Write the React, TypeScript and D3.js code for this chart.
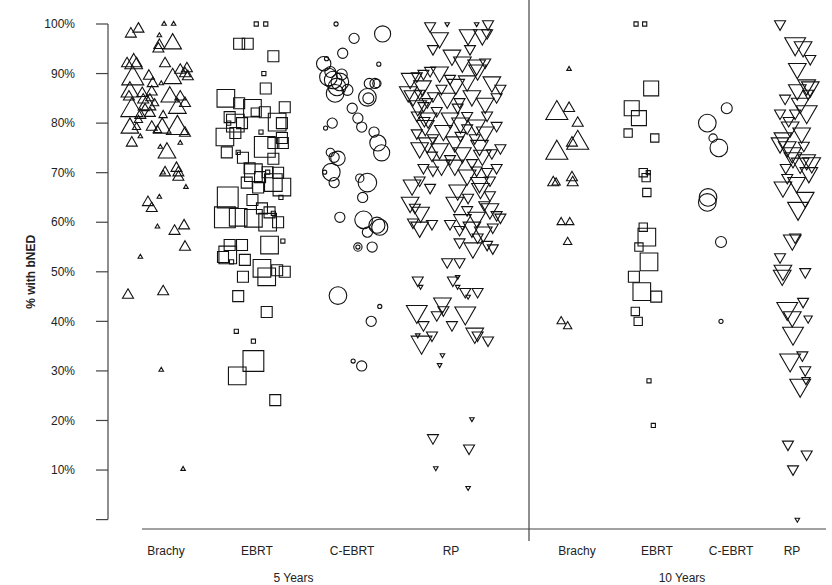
import { useMemo } from 'react';
import * as d3 from 'd3';

// each point: [jitter (in category steps), % with bNED, study size]
type Pt = [number, number, number];

const categories = ['Brachy', 'EBRT', 'C-EBRT', 'RP'];
const periods = ['5 Years', '10 Years'];
const yTicks = [0, 10, 20, 30, 40, 50, 60, 70, 80, 90, 100];

const brachy5: Pt[] = [
  [-0.02, 100, 12], [0.08, 100, 12], [-0.37, 98, 70], [-0.29, 99, 70], [-0.07, 97.7, 12],
  [-0.07, 95.7, 70], [-0.08, 95, 70], [0.07, 96, 180], [-0.01, 92, 70], [-0.34, 92, 180],
  [-0.31, 92, 70], [-0.41, 92, 70], [-0.35, 89, 280], [-0.18, 89.5, 70], [-0.14, 88, 70],
  [-0.05, 88, 12], [0.07, 89, 180], [0.15, 90.7, 70], [0.2, 90, 70], [0.23, 89.4, 70],
  [0.22, 91, 70], [-0.38, 86.3, 180], [-0.39, 85.3, 70], [-0.36, 82.6, 280], [-0.24, 84.7, 70],
  [-0.2, 83.7, 180], [-0.15, 86.3, 70], [-0.17, 82, 70], [-0.27, 81.6, 70], [-0.29, 80.6, 40],
  [-0.03, 81.6, 40], [0.04, 85.3, 180], [0.12, 83, 180], [0.15, 85.3, 70], [0.2, 84, 70],
  [-0.38, 79, 180], [-0.31, 79.2, 40], [-0.15, 79.2, 70], [-0.09, 78.6, 40], [-0.04, 79, 180],
  [0.12, 79, 280], [0.2, 78, 70], [-0.27, 77.3, 12], [-0.36, 76, 70], [-0.06, 75.2, 12],
  [0.15, 76, 12], [0.01, 74, 180], [0.11, 70.9, 70], [-0.01, 70, 70], [-0.03, 70, 12],
  [0.13, 70, 70], [0.13, 69.1, 70], [0.21, 67.1, 12], [-0.07, 65.1, 12], [-0.19, 64, 70],
  [-0.15, 62.8, 70], [-0.09, 59.1, 12], [0.09, 58.2, 70], [0.19, 59.3, 70], [0.2, 55, 70],
  [-0.27, 53, 12], [-0.4, 45.3, 70], [-0.03, 46, 70], [-0.05, 30.2, 12], [0.18, 10.2, 12],
  [-0.22, 83, 40], [-0.17, 85, 40], [-0.25, 86, 70], [-0.12, 84, 40],
];

const ebrt5: Pt[] = [
  [-0.05, 100, 10], [0.05, 100, 10], [-0.23, 96, 70], [-0.14, 96, 70], [0.13, 93.5, 70],
  [0.03, 90, 10], [0.05, 87, 70], [-0.37, 85, 180], [-0.23, 84, 70], [-0.09, 83, 180],
  [0.25, 83.2, 70], [-0.06, 82.2, 40], [0.04, 82.2, 70], [0.17, 80.2, 180], [-0.33, 81.2, 70],
  [-0.27, 80, 180], [-0.34, 80, 10], [-0.2, 80, 70], [0.22, 80, 70], [-0.38, 77.2, 180],
  [-0.27, 78, 70], [0, 78.2, 10], [0.22, 77, 70], [0.23, 76, 70], [0.04, 75.2, 250],
  [-0.36, 74.1, 70], [-0.24, 74.1, 10], [-0.19, 73, 70], [0.13, 72.8, 70], [-0.12, 70.9, 70],
  [-0.08, 70, 180], [-0.01, 69.1, 70], [0.07, 70.1, 70], [0.07, 70.1, 10], [0.18, 70, 70],
  [0.13, 68, 180], [-0.15, 68, 70], [-0.03, 67, 70], [0.22, 67.1, 180], [0.21, 65, 10],
  [-0.35, 65, 250], [-0.38, 61, 250], [-0.24, 61, 180], [-0.09, 64.5, 70], [0.01, 62.8, 70],
  [-0.08, 60.8, 180], [0.09, 62, 70], [0.07, 60, 180], [0.18, 60, 70], [0.13, 61.8, 10],
  [-0.33, 55.4, 70], [-0.2, 55.4, 70], [-0.35, 53.4, 180], [-0.31, 52, 10], [-0.17, 52.4, 70],
  [0.09, 55.4, 180], [0.23, 56.2, 10], [-0.4, 53, 70], [0.01, 50.7, 180], [0.17, 50.3, 70],
  [0.06, 49, 180], [-0.19, 49, 70], [0.25, 50, 70], [-0.24, 45.1, 70], [0.06, 41.9, 70],
  [-0.26, 38, 10], [-0.08, 36, 10], [-0.08, 32, 250], [-0.25, 29, 180], [0.15, 24.1, 70],
  [0.13, 76, 70],
];

const cebrt5: Pt[] = [
  [-0.21, 100, 10], [-0.02, 97.1, 60], [0.28, 98, 150], [-0.14, 94.1, 60], [0.24, 91.9, 10],
  [-0.34, 92, 120], [-0.31, 93, 10], [-0.29, 89.3, 180], [-0.24, 88.7, 180], [-0.17, 88.3, 180],
  [-0.2, 87.3, 180], [-0.27, 90.3, 70], [-0.22, 86, 180], [-0.09, 86.7, 70], [-0.15, 89.8, 70],
  [0.14, 88, 60], [0.2, 88, 60], [0.22, 88, 40], [0.12, 85.2, 180], [0.13, 85, 70],
  [-0.04, 83, 60], [0.02, 81, 60], [0.06, 79.2, 60], [-0.25, 80, 60], [-0.32, 79, 10],
  [0.19, 78.2, 60], [0.23, 76, 150], [0.27, 74, 150], [-0.27, 74.1, 40], [-0.23, 73.1, 60],
  [-0.19, 72.9, 120], [-0.26, 70.1, 180], [-0.33, 70.1, 10], [-0.23, 68, 60], [0.04, 68.9, 40],
  [0.12, 68, 200], [0.07, 65, 60], [-0.17, 61, 60], [0.08, 60.5, 180], [0.22, 59.4, 150],
  [0.12, 58, 60], [0.25, 59, 150], [0.02, 55, 40], [0.02, 55, 10], [0.17, 55, 60],
  [-0.19, 45.2, 180], [0.25, 43, 10], [-0.03, 32, 10], [0.06, 31, 60], [0.16, 40, 60],
];

const rp5: Pt[] = [
  [-0.22, 99.6, 70], [-0.04, 100, 12], [0.27, 100, 12], [0.39, 100, 70], [-0.12, 97.2, 180],
  [0.18, 97.8, 180], [0.33, 97.8, 180], [0.38, 98.2, 70], [-0.19, 95, 70], [0.01, 93.7, 180],
  [0.2, 95, 70], [0.12, 92.3, 180], [0.27, 91.7, 180], [0.36, 92.3, 70],
  [-0.43, 89, 180], [-0.36, 89.5, 70], [-0.29, 90, 70], [-0.22, 90.6, 70], [-0.12, 90.3, 180],
  [-0.01, 89, 70], [0.17, 88.5, 180], [0.28, 90.7, 180], [0.43, 88.3, 180], [0.52, 87, 70],
  [-0.45, 86.3, 180], [-0.4, 85.5, 180], [-0.33, 86, 70], [-0.25, 84.3, 70], [-0.19, 85.5, 70],
  [-0.04, 85, 180], [0.09, 84.3, 70], [0.22, 85.5, 180], [0.36, 84, 180], [0.48, 85.3, 70],
  [-0.36, 81.6, 70], [-0.29, 83.5, 70], [-0.24, 81, 180], [-0.15, 82.5, 70], [-0.01, 81, 180],
  [0.07, 83.2, 70], [0.17, 81.5, 70], [0.27, 79.6, 180], [0.38, 81.6, 70],
  [-0.36, 78, 70], [-0.27, 79.5, 180], [-0.19, 77, 70], [-0.08, 78.5, 180], [0.04, 76.2, 180],
  [0.17, 79, 70], [0.25, 77, 70], [0.36, 78.2, 180], [0.48, 79.5, 70],
  [-0.33, 75, 180], [-0.2, 73.5, 70], [-0.12, 74.8, 180], [-0.01, 72.8, 70], [0.12, 74, 180],
  [0.22, 72, 70], [0.33, 73.5, 180], [0.43, 74, 70], [0.52, 75, 70],
  [-0.29, 71, 70], [-0.19, 70.5, 70], [0.04, 71.5, 180], [0.17, 69.5, 180], [0.27, 70.5, 70],
  [0.38, 70.2, 70], [0.48, 71, 70],
  [-0.41, 67.5, 180], [-0.33, 68.5, 70], [-0.22, 67, 70], [0.07, 66.5, 180], [0.18, 65, 70],
  [0.31, 66.8, 180], [0.41, 68.5, 70], [0.41, 65.5, 70],
  [-0.43, 64, 180], [-0.38, 63, 70], [0.04, 64, 180], [0.17, 62.5, 70], [0.27, 61, 180],
  [0.41, 62.7, 180], [0.48, 61.5, 70],
  [-0.4, 60, 70], [-0.33, 59, 180], [-0.2, 59.7, 70], [-0.01, 59.7, 70], [0.09, 58.5, 70],
  [0.22, 59, 180], [0.34, 58, 180], [0.44, 59, 70], [0.52, 61, 70],
  [0.09, 56, 70], [0.23, 54.8, 180], [0.28, 57, 70], [0.38, 55.5, 70], [0.44, 54.8, 70],
  [-0.04, 52, 70], [0.09, 52, 70],
  [-0.35, 48.3, 70], [-0.32, 47, 12], [0.02, 48.3, 70], [0.07, 49, 12], [0.07, 47, 12],
  [0.15, 46, 70], [0.18, 45, 12], [0.28, 46, 70], [-0.36, 42, 250], [-0.09, 43.7, 180],
  [-0.15, 41.3, 70], [-0.08, 42.3, 70], [0.01, 39.3, 70], [0.15, 41.7, 250], [-0.29, 39.3, 70],
  [-0.2, 37.2, 70], [-0.35, 37.2, 12], [-0.31, 35.8, 250], [0.25, 37.6, 180], [0.28, 37.2, 70],
  [0.39, 36.2, 70], [-0.09, 33.2, 12], [-0.12, 31.2, 12], [0.22, 20.3, 12], [-0.19, 16.5, 70],
  [0.19, 14.4, 70], [-0.16, 10.4, 12], [0.18, 6.4, 12],
  [-0.3, 87.5, 180], [-0.1, 87, 70], [0.05, 87.8, 180], [-0.35, 83.5, 180], [-0.28, 80.5, 70],
  [0.1, 80, 180], [-0.25, 76, 180], [0.1, 77.5, 70], [0.3, 75.5, 180], [-0.1, 71.5, 180],
  [0.3, 68, 180], [0.12, 60.5, 180], [0.35, 63.5, 70], [-0.32, 62, 180],
];

const brachy10: Pt[] = [
  [-0.11, 90.9, 12], [-0.28, 82, 280], [-0.11, 83, 70], [0.01, 80, 70], [-0.07, 76, 70],
  [0.01, 76, 280], [-0.28, 74, 280], [-0.33, 68, 70], [-0.29, 68, 40], [-0.07, 69, 70],
  [-0.06, 68, 70], [-0.22, 60, 40], [-0.1, 60, 40], [-0.13, 56, 40], [-0.22, 40, 40],
  [-0.13, 39, 40],
];

const ebrt10: Pt[] = [
  [-0.18, 100, 10], [-0.06, 100, 10], [0.03, 87, 130], [-0.24, 83, 130], [-0.14, 81, 130],
  [-0.29, 78, 40], [0.08, 77, 40], [-0.08, 70, 40], [-0.01, 70, 10], [-0.04, 69, 40],
  [-0.03, 66, 40], [-0.08, 59, 40], [-0.03, 57, 180], [-0.14, 55, 40], [0, 52, 180],
  [-0.21, 49, 70], [-0.1, 46, 180], [0.1, 45, 70], [-0.19, 42, 40], [-0.15, 40, 40],
  [0, 28, 10], [0.06, 19, 10],
];

const cebrt10: Pt[] = [
  [0.08, 83, 70], [-0.19, 80, 180], [-0.11, 77, 40], [-0.03, 75, 180], [-0.18, 65, 180],
  [-0.19, 64, 180], [0, 56, 70], [0, 40, 10],
];

const rp10: Pt[] = [
  [-0.18, 100, 70], [0.03, 96, 250], [0.14, 95.4, 180], [0.24, 93, 70], [0.06, 91, 180],
  [0.06, 86.7, 180], [-0.11, 85, 70], [0.19, 87.7, 180], [0.24, 87.3, 180], [0.21, 86, 70],
  [0.19, 82.3, 250], [-0.18, 82, 70], [0.03, 82, 70], [-0.04, 79.2, 180], [-0.14, 77, 180],
  [-0.18, 76, 180], [-0.08, 75.2, 180], [-0.01, 74, 180], [0.19, 72.6, 180], [0.1, 71.9, 180],
  [0.26, 72, 180], [-0.08, 69, 70], [-0.14, 67.1, 180], [0.17, 65, 180], [0.07, 62.8, 250],
  [0.03, 57, 70], [-0.01, 56.4, 180], [-0.18, 53, 70], [-0.14, 50.3, 180], [-0.15, 49.3, 180],
  [0.17, 50, 70], [0.14, 44, 70], [-0.08, 42.6, 250], [-0.01, 40.9, 180], [0.21, 40.6, 40],
  [0, 37.6, 250], [-0.04, 32.2, 250], [0.13, 33.2, 70], [0.17, 30.2, 70], [0.1, 27.1, 250],
  [0.18, 28.2, 40], [-0.07, 15.2, 70], [0.19, 13.2, 70], [0, 10.2, 70], [0.06, 0, 12],
  [0.1, 84, 180], [-0.06, 80.5, 70], [0.12, 78, 180], [0, 73, 180], [0.22, 70, 180],
  [-0.1, 71, 70], [0.05, 68, 180], [0.15, 75.5, 70],
];

const groups: { period: number; cat: number; pts: Pt[] }[] = [
  { period: 0, cat: 0, pts: brachy5 },
  { period: 0, cat: 1, pts: ebrt5 },
  { period: 0, cat: 2, pts: cebrt5 },
  { period: 0, cat: 3, pts: rp5 },
  { period: 1, cat: 0, pts: brachy10 },
  { period: 1, cat: 1, pts: ebrt10 },
  { period: 1, cat: 2, pts: cebrt10 },
  { period: 1, cat: 3, pts: rp10 },
];

function shapePath(cat: number, w: number): string {
  const p = d3.path();
  const h = w * 0.866;
  if (cat === 0) {
    p.moveTo(0, (-2 * h) / 3);
    p.lineTo(w / 2, h / 3);
    p.lineTo(-w / 2, h / 3);
    p.closePath();
  } else if (cat === 3) {
    p.moveTo(0, (2 * h) / 3);
    p.lineTo(w / 2, -h / 3);
    p.lineTo(-w / 2, -h / 3);
    p.closePath();
  } else if (cat === 1) {
    p.rect(-w / 2, -w / 2, w, w);
  } else {
    p.moveTo(w / 2, 0);
    p.arc(0, 0, w / 2, 0, Math.PI * 2);
    p.closePath();
  }
  return p.toString();
}

export default function App() {
  const width = 832;
  const height = 585;

  const y = d3.scaleLinear().domain([0, 100]).range([519.6, 24]);
  const xPanels = [
    d3.scaleLinear().domain([1, 4]).range([166, 451]),
    d3.scaleLinear().domain([1, 4]).range([577, 793]),
  ];
  const size = d3.scaleSqrt().domain([0, 280]).range([0, 22]);
  const font = 'Liberation Sans, Arial, Helvetica, sans-serif';
  const axisColor = '#444';

  const marks = useMemo(
    () =>
      groups.flatMap((g, gi) =>
        g.pts.map((d, i) => ({
          key: `${gi}-${i}`,
          cx: xPanels[g.period](g.cat + 1 + d[0]),
          cy: y(d[1]),
          path: shapePath(g.cat, size(d[2])),
        }))
      ),
    []
  );

  return (
    <svg
      width={width}
      height={height}
      style={{ position: 'absolute', left: 0, top: 0, background: '#fff' }}
      fontFamily={font}
    >
      {/* y axis */}
      <line x1={108} x2={108} y1={y(0)} y2={y(100)} stroke={axisColor} strokeWidth={1.2} />
      {yTicks.map((t) => (
        <g key={t}>
          <line x1={96} x2={108} y1={y(t)} y2={y(t)} stroke={axisColor} strokeWidth={1.2} />
          {t > 0 && (
            <text x={75} y={y(t)} dy="0.35em" textAnchor="end" fontSize={12} fill="#222">
              {`${t}%`}
            </text>
          )}
        </g>
      ))}
      <text
        transform={`translate(35,${(y(0) + y(100)) / 2}) rotate(-90)`}
        textAnchor="middle"
        fontSize={12}
        fontWeight="bold"
        fill="#222"
      >
        % with bNED
      </text>

      {/* x baseline and panel divider */}
      <line x1={142} x2={826} y1={529} y2={529} stroke={axisColor} strokeWidth={1.2} />
      <line x1={529} x2={529} y1={0} y2={541} stroke={axisColor} strokeWidth={1.2} />

      {periods.map((p, pi) => (
        <g key={p}>
          {categories.map((c, ci) => (
            <text
              key={c}
              x={xPanels[pi](ci + 1) + (pi === 1 ? [0, 8, 10, -1][ci] : [0, -4, -4, 0][ci])}
              y={555}
              textAnchor="middle"
              fontSize={12}
              fill="#222"
            >
              {c}
            </text>
          ))}
          <text
            x={(xPanels[pi](1) + xPanels[pi](4)) / 2 + (pi === 0 ? -15 : -3)}
            y={582}
            textAnchor="middle"
            fontSize={12}
            fill="#222"
          >
            {p}
          </text>
        </g>
      ))}

      {/* study points */}
      <g fill="none" stroke="#111" strokeWidth={1.1}>
        {marks.map((m) => (
          <path key={m.key} d={m.path} transform={`translate(${m.cx},${m.cy})`} />
        ))}
      </g>
    </svg>
  );
}
